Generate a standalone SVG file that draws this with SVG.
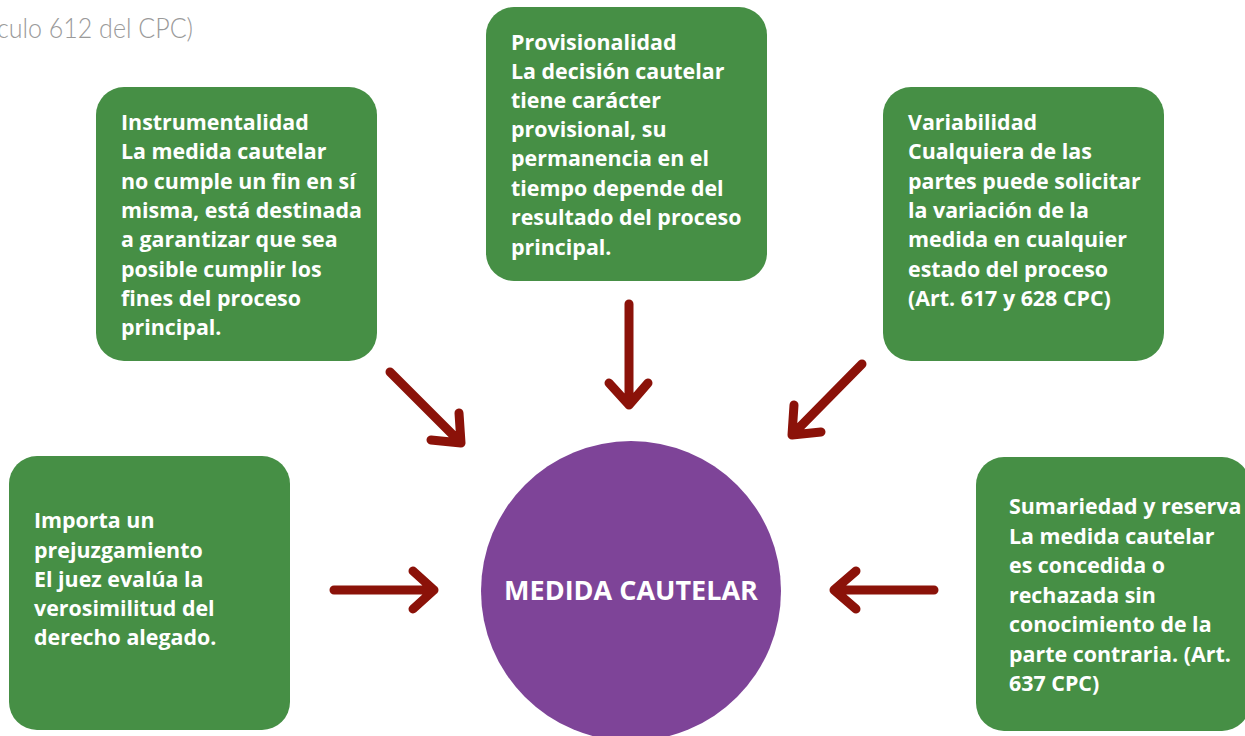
<svg xmlns="http://www.w3.org/2000/svg" width="1245" height="736" viewBox="0 0 1245 736">
<style>
.box{fill:#468f45}
.t{font-family:"Open Sans","Liberation Sans",sans-serif;font-weight:700;font-size:21.4px;fill:#ffffff}
.arr{fill:none;stroke:#8b1209;stroke-width:9;stroke-linecap:round;stroke-linejoin:round}
</style>
<rect width="1245" height="736" fill="#ffffff"/>
<text x="-3" y="38" font-family="Lato,'Liberation Sans',sans-serif" font-weight="300" font-size="27" fill="#9a9a9a" textLength="196" lengthAdjust="spacingAndGlyphs">culo 612 del CPC)</text>
<g id="connectors">
<path class="arr" d="M390 372 L461 443 M431 440 L461 443 L459 413"/>
<path class="arr" d="M629 304 L629 405 M609 383 L629 405 L648 383"/>
<path class="arr" d="M862 364 L792 435 M794 405 L792 435 L821 432"/>
<path class="arr" d="M334 590 L434 590 M413 571 L434 590 L413 609"/>
<path class="arr" d="M934 590 L834 590 M856 571 L834 590 L856 609"/>
</g>
<g id="center">
<circle cx="631" cy="591" r="150" fill="#7e4498"/>
<text x="631" y="600" text-anchor="middle" font-family="'Open Sans','Liberation Sans',sans-serif" font-weight="700" font-size="27" fill="#ffffff">MEDIDA CAUTELAR</text>
</g>
<g id="instrumentalidad">
<rect class="box" x="96" y="87" width="281" height="274" rx="28"/>
<text class="t"><tspan x="121" y="130">Instrumentalidad</tspan><tspan x="121" y="159">La medida cautelar</tspan><tspan x="121" y="189">no cumple un fin en sí</tspan><tspan x="121" y="218">misma, está destinada</tspan><tspan x="121" y="247">a garantizar que sea</tspan><tspan x="121" y="277">posible cumplir los</tspan><tspan x="121" y="306">fines del proceso</tspan><tspan x="121" y="335">principal.</tspan></text>
</g>
<g id="provisionalidad">
<rect class="box" x="486" y="7" width="281" height="274" rx="28"/>
<text class="t"><tspan x="511" y="50">Provisionalidad</tspan><tspan x="511" y="79">La decisión cautelar</tspan><tspan x="511" y="108">tiene carácter</tspan><tspan x="511" y="137">provisional, su</tspan><tspan x="511" y="166">permanencia en el</tspan><tspan x="511" y="196">tiempo depende del</tspan><tspan x="511" y="225">resultado del proceso</tspan><tspan x="511" y="255">principal.</tspan></text>
</g>
<g id="variabilidad">
<rect class="box" x="883" y="87" width="281" height="274" rx="28"/>
<text class="t"><tspan x="908" y="130">Variabilidad</tspan><tspan x="908" y="159">Cualquiera de las</tspan><tspan x="908" y="189">partes puede solicitar</tspan><tspan x="908" y="218">la variación de la</tspan><tspan x="908" y="247">medida en cualquier</tspan><tspan x="908" y="277">estado del proceso</tspan><tspan x="908" y="306">(Art. 617 y 628 CPC)</tspan></text>
</g>
<g id="prejuzgamiento">
<rect class="box" x="9" y="456" width="281" height="274" rx="28"/>
<text class="t"><tspan x="34" y="528">Importa un</tspan><tspan x="34" y="558">prejuzgamiento</tspan><tspan x="34" y="587">El juez evalúa la</tspan><tspan x="34" y="616">verosimilitud del</tspan><tspan x="34" y="645">derecho alegado.</tspan></text>
</g>
<g id="sumariedad">
<rect class="box" x="976" y="457" width="274" height="274" rx="28"/>
<text class="t"><tspan x="1009" y="514">Sumariedad y reserva</tspan><tspan x="1009" y="544">La medida cautelar</tspan><tspan x="1009" y="573">es concedida o</tspan><tspan x="1009" y="603">rechazada sin</tspan><tspan x="1009" y="632">conocimiento de la</tspan><tspan x="1009" y="662">parte contraria. (Art.</tspan><tspan x="1009" y="691">637 CPC)</tspan></text>
</g>
</svg>
